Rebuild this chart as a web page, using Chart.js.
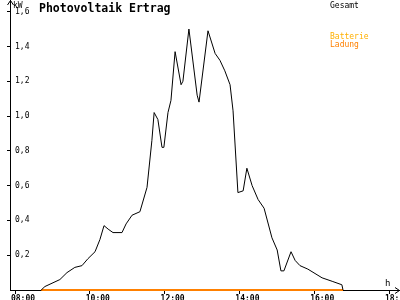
<!DOCTYPE html>
<html>
<head>
<meta charset="utf-8">
<script src="https://cdn.jsdelivr.net/npm/chart.js@4/dist/chart.umd.min.js"></script>
<style>
    html, body { margin: 0; padding: 0; background: #fff; }
    #wrap { width: 400px; height: 300px; }
</style>
</head>
<body>
<div id="wrap"><canvas id="pvChart" width="400" height="300"></canvas></div>
<script>
// Time of day in decimal hours
const times = [8.70, 8.80, 9.20, 9.39, 9.60, 9.79, 9.95, 10.14, 10.27, 10.38,
    10.49, 10.62, 10.86, 10.97, 11.13, 11.34, 11.53, 11.66, 11.72, 11.82,
    11.93, 11.98, 12.09, 12.17, 12.28, 12.44, 12.49, 12.65, 12.87, 12.92,
    13.16, 13.35, 13.48, 13.61, 13.75, 13.83, 13.96, 14.10, 14.20, 14.34,
    14.50, 14.66, 14.87, 15.01, 15.11, 15.19, 15.38, 15.49, 15.62, 15.83,
    16.21, 16.48, 16.74, 16.77];
// Gesamt (kW)
const gesamt = [0, 0.02, 0.06, 0.10, 0.13, 0.14, 0.18, 0.22, 0.29, 0.37,
    0.35, 0.33, 0.33, 0.38, 0.43, 0.45, 0.59, 0.86, 1.02, 0.98,
    0.82, 0.82, 1.02, 1.09, 1.37, 1.18, 1.20, 1.50, 1.12, 1.08,
    1.49, 1.36, 1.32, 1.26, 1.18, 1.03, 0.56, 0.57, 0.70, 0.60,
    0.52, 0.47, 0.30, 0.23, 0.11, 0.11, 0.22, 0.17, 0.14, 0.12,
    0.07, 0.05, 0.03, 0];
// Batterie Ladung (kW) - zero the whole day
const batterieTimes = [8.70, 16.77];
const batterie = [0, 0];

const xTicks = [8, 10, 12, 14, 16, 18];
const xTickLabels = ['08:00', '10:00', '12:00', '14:00', '16:00', '18:00'];
const yTicks = [0.2, 0.4, 0.6, 0.8, 1.0, 1.2, 1.4, 1.6];
const yTickLabels = ['0,2', '0,4', '0,6', '0,8', '1,0', '1,2', '1,4', '1,6'];

const title = 'Photovoltaik Ertrag';

// Arrows, unit labels, title and legend texts
const decoPlugin = {
    id: 'deco',
    afterDraw(chart) {
        const ctx = chart.ctx;
        const a = chart.chartArea;
        const x0 = a.left + 0.5, y0 = a.bottom + 0.5;
        ctx.save();
        ctx.strokeStyle = '#000';
        ctx.lineWidth = 1;
        ctx.beginPath();
        ctx.moveTo(x0 - 3, 5); ctx.lineTo(x0, 0.5); ctx.lineTo(x0 + 3, 5);
        ctx.moveTo(395, y0 - 3); ctx.lineTo(399.5, y0); ctx.lineTo(395, y0 + 3);
        ctx.stroke();

        ctx.fillStyle = '#000';
        ctx.textBaseline = 'alphabetic';
        ctx.textAlign = 'left';
        ctx.font = '8px "DejaVu Sans Mono"';
        ctx.fillText('kW', 13, 8);
        ctx.font = '9px "DejaVu Sans Mono"';
        ctx.fillText('h', 385, 286);

        ctx.font = 'bold 11.5px "DejaVu Sans Mono"';
        ctx.fillText(title, 39, 12);

        ctx.font = '8px "DejaVu Sans Mono"';
        const ds = chart.data.datasets;
        ctx.fillStyle = ds[0].borderColor;
        ctx.fillText(ds[0].label, 330, 8);
        const parts = ds[1].label.split(' ');
        ctx.fillStyle = '#ffb000';
        ctx.fillText(parts[0], 330, 39);
        ctx.fillStyle = ds[1].borderColor;
        ctx.fillText(parts[1], 330, 47);
        ctx.restore();
    }
};

function initChart() {
    const ctx = document.getElementById('pvChart').getContext('2d');

    new Chart(ctx, {
        type: 'line',
        data: {
            datasets: [
                {
                    label: 'Gesamt',
                    data: times.map((t, i) => ({ x: t, y: gesamt[i] })),
                    borderColor: '#000000',
                    borderWidth: 1,
                    pointRadius: 0,
                    tension: 0,
                    clip: false
                },
                {
                    label: 'Batterie Ladung',
                    data: batterieTimes.map((t, i) => ({ x: t, y: batterie[i] })),
                    borderColor: '#ff8000',
                    borderWidth: 2,
                    pointRadius: 0,
                    clip: false
                }
            ]
        },
        options: {
            responsive: false,
            animation: false,
            layout: { padding: 0 },
            plugins: {
                legend: { display: false },
                title: { display: false },
                tooltip: { enabled: false }
            },
            scales: {
                x: {
                    type: 'linear',
                    min: 7.866,
                    max: 18.294,
                    border: { color: '#000', width: 1 },
                    grid: { drawOnChartArea: false, color: '#000', tickLength: 4 },
                    afterBuildTicks: s => { s.ticks = xTicks.map(v => ({ value: v })); },
                    afterFit: s => { s.height = 10; s.paddingLeft = 0; s.paddingRight = 0; },
                    ticks: {
                        color: '#000',
                        font: { family: 'DejaVu Sans Mono', size: 8, weight: 'bold' },
                        padding: 0,
                        labelOffset: 8,
                        maxRotation: 0,
                        autoSkip: false,
                        callback: v => xTickLabels[xTicks.indexOf(v)]
                    }
                },
                y: {
                    min: 0,
                    max: 1.667,
                    border: { color: '#000', width: 1 },
                    grid: { drawOnChartArea: false, color: '#000', tickLength: 3 },
                    afterBuildTicks: s => { s.ticks = yTicks.map(v => ({ value: v })); },
                    afterFit: s => { s.width = 10; s.paddingTop = 0; s.paddingBottom = 0; },
                    ticks: {
                        mirror: true,
                        color: '#000',
                        font: { family: 'DejaVu Sans Mono', size: 8 },
                        padding: 5,
                        autoSkip: false,
                        callback: v => yTickLabels[yTicks.indexOf(v)]
                    }
                }
            }
        },
        plugins: [decoPlugin]
    });
}

initChart();
</script>
</body>
</html>
